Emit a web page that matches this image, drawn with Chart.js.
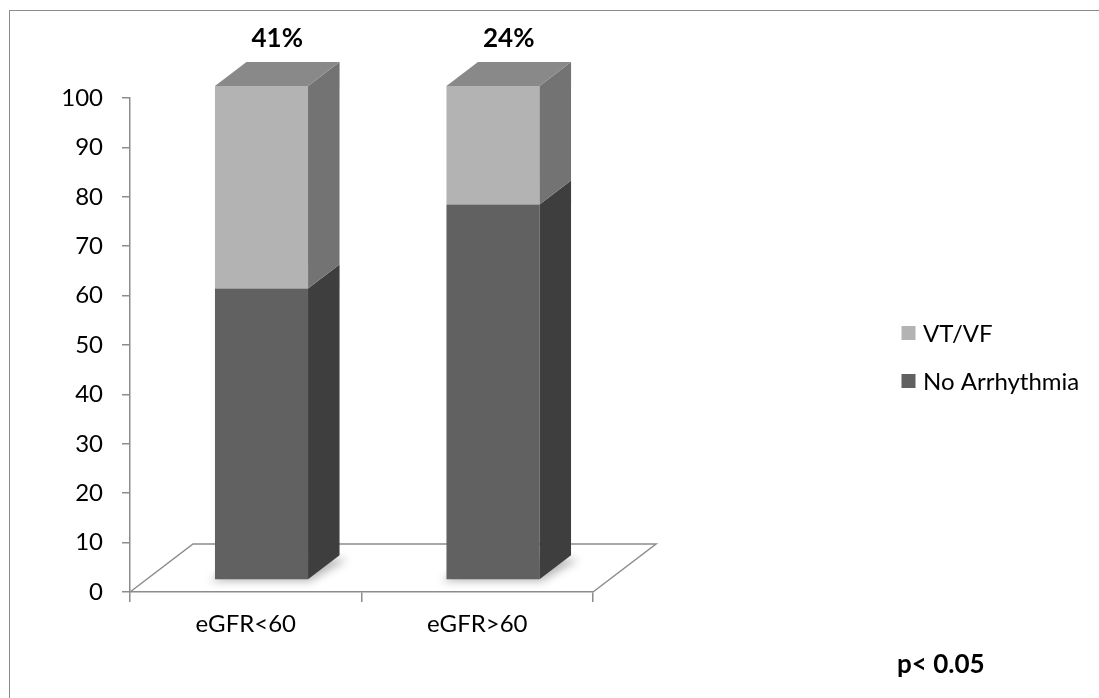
<!DOCTYPE html>
<html>
<head>
<meta charset="utf-8">
<script src="https://cdn.jsdelivr.net/npm/chart.js@4.4.1/dist/chart.umd.min.js"></script>
<style>
  html, body { margin: 0; padding: 0; background: #fff; overflow: hidden; }
  #frame { position: absolute; left: 9px; top: 10px; width: 1200px; height: 800px; border: 1.5px solid #8c8c8c; }
  #wrap { position: absolute; left: 0; top: 0; width: 1099px; height: 698px; }
</style>
</head>
<body>
<div id="frame"></div>
<div id="wrap"><canvas id="c" width="1099" height="698"></canvas></div>
<script>
// ---- data ----
const categories = ['eGFR<60', 'eGFR>60'];
const noArrhythmia = [59, 76];
const vtVf = [41, 24];
const yTickValues = [0, 10, 20, 30, 40, 50, 60, 70, 80, 90, 100];
const pValueText = 'p< 0.05';

// ---- 3D geometry and face shades ----
const DEPTH = { x: 63, y: -48 };   // floor depth vector (px)
const FRONT = 0.25, BACK = 0.75;   // bar front/back planes as fractions of depth
const faceShades = [
  { side: '#3e3e3e', top: '#4f4f4f' },
  { side: '#737373', top: '#898989' }
];
const FONT = 'Lato';

function poly(ctx, pts) {
  ctx.beginPath();
  ctx.moveTo(pts[0][0], pts[0][1]);
  for (let k = 1; k < pts.length; k++) ctx.lineTo(pts[k][0], pts[k][1]);
  ctx.closePath();
  ctx.fill();
}

const bars3d = {
  id: 'bars3d',
  beforeDatasetsDraw(chart) {
    const { ctx, chartArea: a } = chart;
    ctx.save();
    // floor outline
    ctx.strokeStyle = '#8c8c8c';
    ctx.lineWidth = 1.5;
    ctx.beginPath();
    ctx.moveTo(a.left, a.bottom);
    ctx.lineTo(a.left + DEPTH.x, a.bottom + DEPTH.y);
    ctx.lineTo(a.right + DEPTH.x, a.bottom + DEPTH.y);
    ctx.lineTo(a.right, a.bottom);
    ctx.stroke();
    // soft footprint shadows on the floor
    const dx = DEPTH.x * (BACK - FRONT), dy = DEPTH.y * (BACK - FRONT);
    ctx.filter = 'blur(4px)';
    ctx.fillStyle = 'rgba(0,0,0,0.28)';
    chart.getDatasetMeta(0).data.forEach(el => {
      const l = el.x - el.width / 2 + DEPTH.x * FRONT;
      const r = el.x + el.width / 2 + DEPTH.x * FRONT;
      const yb = el.base + DEPTH.y * FRONT;
      poly(ctx, [[l - 5, yb + 2], [r + 2, yb + 2], [r + dx + 8, yb + dy + 4], [l + dx, yb + dy]]);
    });
    ctx.restore();
    // bar front faces are drawn by Chart.js on the front plane
    ctx.save();
    ctx.translate(DEPTH.x * FRONT, DEPTH.y * FRONT);
  },
  afterDatasetsDraw(chart) {
    const ctx = chart.ctx;
    const dx = DEPTH.x * (BACK - FRONT), dy = DEPTH.y * (BACK - FRONT);
    const n = chart.data.datasets.length;
    chart.data.datasets.forEach((ds, di) => {
      chart.getDatasetMeta(di).data.forEach(el => {
        const l = el.x - el.width / 2, r = el.x + el.width / 2;
        const top = Math.min(el.y, el.base), bot = Math.max(el.y, el.base);
        ctx.fillStyle = faceShades[di].side;
        poly(ctx, [[r, top], [r + dx, top + dy], [r + dx, bot + dy], [r, bot]]);
        if (di === n - 1) {
          ctx.fillStyle = faceShades[di].top;
          poly(ctx, [[l, top], [l + dx, top + dy], [r + dx, top + dy], [r, top]]);
        }
      });
    });
    ctx.restore();

    // percentage of VT/VF above each bar
    const topMeta = chart.getDatasetMeta(n - 1);
    ctx.save();
    ctx.font = 'bold 26px ' + FONT;
    ctx.fillStyle = '#000';
    ctx.textAlign = 'center';
    ctx.textBaseline = 'middle';
    topMeta.data.forEach((el, i) => {
      const cx = el.x + DEPTH.x * FRONT + dx / 2;
      const cy = el.y + DEPTH.y * FRONT + dy - 23;
      ctx.fillText(vtVf[i] + '%', cx, cy);
    });
    ctx.restore();
  },
  afterDraw(chart) {
    const ctx = chart.ctx;
    ctx.save();
    // legend (series listed top to bottom in reverse stacking order)
    const ds = chart.data.datasets;
    ctx.font = '24px ' + FONT;
    ctx.textBaseline = 'middle';
    ctx.textAlign = 'left';
    let y = 333;
    for (let k = ds.length - 1; k >= 0; k--) {
      ctx.fillStyle = ds[k].backgroundColor;
      ctx.fillRect(901.5, y - 7, 14, 14);
      ctx.fillStyle = '#000';
      ctx.fillText(ds[k].label, 923, y + 1);
      y += 48;
    }
    // significance note
    ctx.font = 'bold 26px ' + FONT;
    ctx.fillText(pValueText, 897, 665);
    ctx.restore();
  }
};

new Chart(document.getElementById('c'), {
  type: 'bar',
  data: {
    labels: categories,
    datasets: [
      { label: 'No Arrhythmia', data: noArrhythmia, backgroundColor: '#616161' },
      { label: 'VT/VF', data: vtVf, backgroundColor: '#b3b3b3' }
    ]
  },
  options: {
    responsive: false,
    devicePixelRatio: 1,
    animation: false,
    events: [],
    layout: { padding: { left: 0, top: 98, right: 506, bottom: 0 } },
    datasets: { bar: { barPercentage: 0.402, categoryPercentage: 1, borderWidth: 0, clip: false } },
    plugins: { legend: { display: false }, tooltip: { enabled: false } },
    scales: {
      x: {
        stacked: true,
        afterFit(s) { s.height = 106; },
        border: { display: true, color: '#8c8c8c', width: 1.5 },
        grid: { display: true, drawOnChartArea: false, drawTicks: true, tickLength: 10, color: '#8c8c8c', lineWidth: 1.5, offset: true },
        ticks: { color: '#000', font: { family: FONT, size: 24 }, padding: 8 }
      },
      y: {
        stacked: true,
        min: 0,
        max: 100,
        afterFit(s) { s.width = 130; },
        afterBuildTicks(s) { s.ticks = yTickValues.map(v => ({ value: v })); },
        border: { display: true, color: '#8c8c8c', width: 1.5 },
        grid: { display: true, drawOnChartArea: false, drawTicks: true, tickLength: 8, color: '#8c8c8c', lineWidth: 1.5 },
        ticks: { color: '#000', font: { family: FONT, size: 24 }, padding: 19 }
      }
    }
  },
  plugins: [bars3d]
});
</script>
</body>
</html>
